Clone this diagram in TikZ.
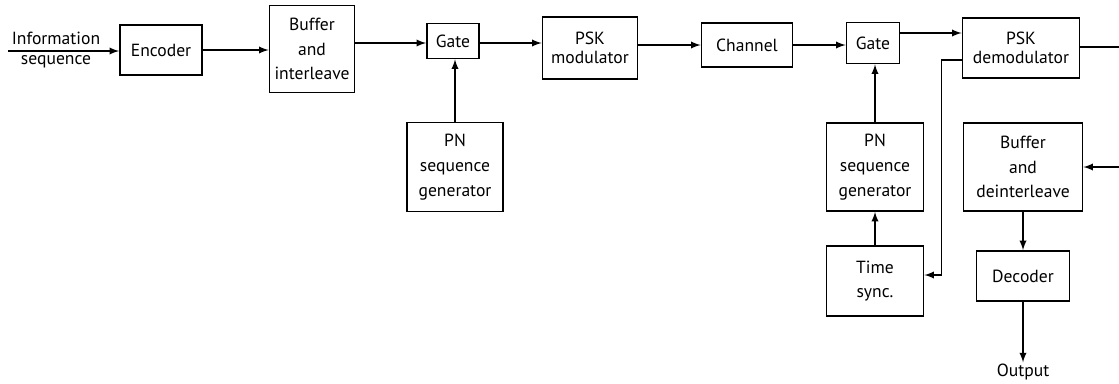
\documentclass[tikz,border=0pt]{standalone}
\usepackage{fontspec}
\setmainfont{PT Sans}
\usetikzlibrary{positioning}

\tikzset{
  blk/.style={draw, line width=1.3pt, align=center, inner sep=1pt,
              font=\fontsize{12.5}{17.5}\selectfont},
  sig/.style={->, line width=1.3pt},
  lbl/.style={align=center, font=\fontsize{12.5}{17.5}\selectfont}
}

\begin{document}
\begin{tikzpicture}[>=latex, x=0.025cm, y=-0.025cm]
		% 0. Frame of the picture (pixel units, y pointing down)
		\useasboundingbox (0,0) rectangle (1119,383);

		% 1. Transmitter row
		\node[lbl] (info) at (56,50) {Information\\[-3pt]sequence};
		\coordinate (src) at (8,51);
		\node[blk, minimum width=2.05cm, minimum height=1.25cm] (enc) at (161,50) {Encoder};
		\node[blk, minimum width=2.125cm, minimum height=2.175cm] (buf) at (312,49) {Buffer\\and\\interleave};
		\node[blk, minimum width=1.3cm, minimum height=0.875cm] (gate1) at (453,41) {Gate};
		\node[blk, minimum width=2.375cm, minimum height=1.55cm] (mod) at (590,48) {PSK\\[-4pt]modulator};
		\node[blk, minimum width=2.275cm, minimum height=1.1cm] (chan) at (747,45) {Channel};

		% 2. Receiver row
		\node[blk, minimum width=1.325cm, minimum height=1.025cm] (gate2) at (873,43) {Gate};
		\node[blk, minimum width=2.925cm, minimum height=1.5cm] (demod) at (1021,48) {PSK\\[-4pt]demodulator};
		\coordinate (outR) at (1119,47);
		\coordinate (inR) at (1119,167);

		% 3. PN generators, sync and back end
		\node[blk, minimum width=2.4cm, minimum height=2.225cm] (pn1) at (455,167) {PN\\sequence\\generator};
		\node[blk, minimum width=2.425cm, minimum height=2.2cm] (pn2) at (875,167) {PN\\sequence\\generator};
		\node[blk, minimum width=2.425cm, minimum height=1.75cm] (sync) at (875,281) {Time\\sync.};
		\node[blk, minimum width=2.975cm, minimum height=2.2cm] (deint) at (1023,167) {Buffer\\and\\deinterleave};
		\node[blk, minimum width=2.325cm, minimum height=1.25cm] (dec) at (1023,276) {Decoder};
		\node[lbl, inner sep=1pt] (out) at (1023,372) {Output};

		% 4. Connections
		\draw[sig] (src) -- (src -| enc.west);
		\draw[sig] (enc.east) -- (enc.east -| buf.west);
		\draw[sig] ([yshift=0.15cm]buf.east) -- ([yshift=0.15cm]buf.east -| gate1.west);
		\draw[sig] ([yshift=-0.05cm]gate1.east) -- ([yshift=-0.05cm]gate1.east -| mod.west);
		\draw[sig] (mod.east |- chan.west) -- (chan.west);
		\draw[sig] (chan.east) -- (chan.east -| gate2.west);
		\draw[sig] ([yshift=0.25cm]gate2.east) -- ([yshift=0.25cm]gate2.east -| demod.west);
		\draw[line width=1.3pt] (demod.east |- outR) -- (outR);
		\draw[sig] (inR) -- (inR -| deint.east);

		\draw[sig] (pn1.north) -- (pn1.north |- gate1.south);
		\draw[sig] (pn2.north) -- (pn2.north |- gate2.south);
		\draw[sig] (sync.north) -- (pn2.south);
		\draw[sig] ([yshift=-0.3cm]demod.west) -- ++(-0.5cm,0) |- ([yshift=0.15cm]sync.east);
		\draw[sig] (deint.south) -- (dec.north);
		\draw[sig] (dec.south) -- (out.north);
	\end{tikzpicture}
\end{document}
